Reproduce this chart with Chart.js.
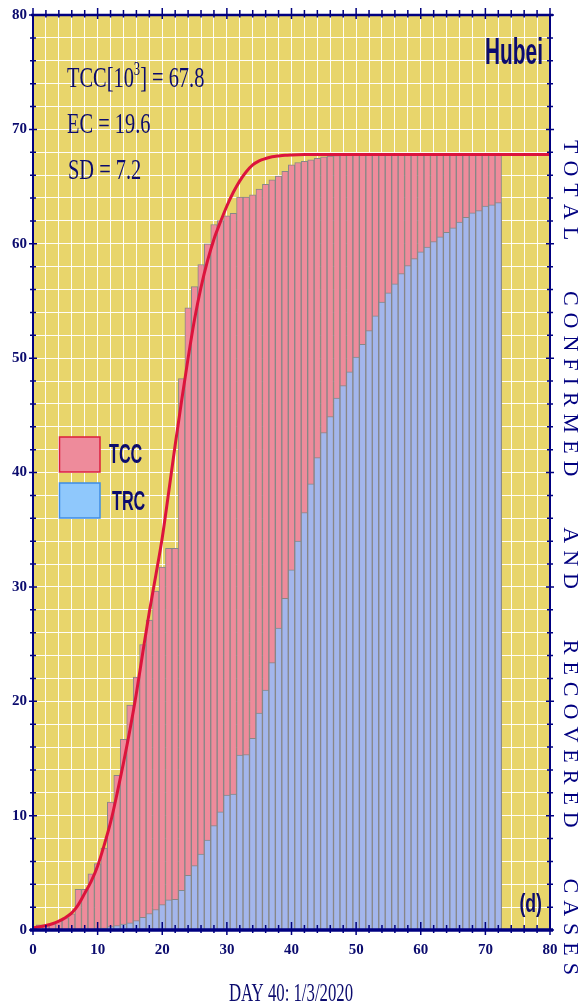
<!DOCTYPE html>
<html>
<head>
<meta charset="utf-8">
<title>Hubei - TCC / TRC</title>
<script src="https://cdn.jsdelivr.net/npm/chart.js@4.4.1/dist/chart.umd.min.js"></script>
<style>
html, body { margin: 0; padding: 0; background: #ffffff; }
#hubeiChart { display: block; }
</style>
</head>
<body>
<canvas id="hubeiChart" width="581" height="1008"></canvas>

<script>
// day 1 = 22/1/2020, values in thousands
var days = [1,2,3,4,5,6,7,8,9,10,11,12,13,14,15,16,17,18,19,20,
            21,22,23,24,25,26,27,28,29,30,31,32,33,34,35,36,37,38,39,40,
            41,42,43,44,45,46,47,48,49,50,51,52,53,54,55,56,57,58,59,60,
            61,62,63,64,65,66,67,68,69,70,71,72];

// total confirmed cases
var tcc = [0.444,0.444,0.549,0.761,1.058,1.423,3.554,3.554,4.903,5.806,
           7.153,11.177,13.522,16.678,19.665,22.112,24.953,27.100,29.631,31.728,
           33.366,33.366,48.206,54.406,56.249,58.182,59.989,61.682,62.031,62.442,
           62.662,64.084,64.084,64.287,64.786,65.187,65.596,65.914,66.337,66.907,
           67.103,67.217,67.332,67.466,67.592,67.666,67.707,67.743,67.760,67.773,
           67.781,67.786,67.790,67.794,67.798,67.799,67.800,67.800,67.800,67.800,
           67.800,67.800,67.800,67.800,67.800,67.801,67.801,67.801,67.801,67.802,
           67.802,67.802];

// total recovered cases
var trc = [0.028,0.028,0.031,0.032,0.042,0.045,0.080,0.088,0.090,0.141,
           0.168,0.295,0.386,0.522,0.633,0.817,1.115,1.439,1.795,2.222,
           2.639,2.686,3.459,4.774,5.623,6.639,7.862,9.128,10.337,11.788,
           11.881,15.299,15.343,16.748,18.971,20.969,23.383,26.4,29.0,31.5,
           34.0,36.5,39.0,41.3,43.5,44.9,46.5,47.6,48.8,50.1,
           51.2,52.4,53.7,54.9,55.7,56.5,57.4,58.1,58.7,59.3,
           59.7,60.2,60.6,61.0,61.4,61.9,62.3,62.7,62.9,63.3,
           63.4,63.6];

// fitted curve
var fitDays = [0,1,2,3,4,5,6,7,8,9,10,11,12,13,14,15,16,17,18,19,20,
               21,22,23,24,25,26,27,28,29,30,31,32,33,34,35,36,37,38,39,40,
               41,42,44,46,50,55,60,65,70,75,80];
var fitTcc = [0.20,0.28,0.40,0.55,0.78,1.08,1.50,2.20,3.20,4.25,5.60,
              7.40,9.40,11.90,14.60,17.50,20.70,24.30,27.80,31.00,34.30,
              38.30,42.40,46.30,50.00,53.40,56.20,58.50,60.40,61.90,63.30,
              64.50,65.50,66.30,66.90,67.25,67.45,67.60,67.68,67.74,67.77,
              67.79,67.80,67.80,67.80,67.80,67.80,67.80,67.80,67.80,67.80,67.80];

var xTickLabels = [0,10,20,30,40,50,60,70,80];
var yTickLabels = [0,10,20,30,40,50,60,70,80];

var NAVY = '#000080';
var TEXT = '#0b0b6e';

// yellow plot background
var bgPlugin = {
  id: 'plotBg',
  beforeDraw: function(chart) {
    var a = chart.chartArea, c = chart.ctx;
    c.save();
    c.fillStyle = '#e8d56b';
    c.fillRect(a.left, a.top, a.right - a.left, a.bottom - a.top);
    c.restore();
  }
};

// box round the plot with tick marks on all four sides
var framePlugin = {
  id: 'frame',
  afterDatasetsDraw: function(chart) {
    var a = chart.chartArea, c = chart.ctx;
    var xs = chart.scales.x, ys = chart.scales.y;
    c.save();
    c.strokeStyle = NAVY;
    c.lineWidth = 1.5;
    c.beginPath();
    for (var v = 0; v <= 80; v += 2) {
      var big = (v % 10 === 0);
      var px = xs.getPixelForValue(v);
      // bottom
      c.moveTo(px, a.bottom - (big ? 8 : 5));
      c.lineTo(px, a.bottom + (big ? 5 : 3));
      // top
      c.moveTo(px, a.top - (big ? 7 : 5));
      c.lineTo(px, a.top + (big ? 4 : 2.5));
      var py = ys.getPixelForValue(v);
      // left
      c.moveTo(a.left - (big ? 4 : 3), py);
      c.lineTo(a.left + (big ? 4 : 3), py);
      // right
      c.moveTo(a.right - (big ? 4 : 3), py);
      c.lineTo(a.right + (big ? 4 : 3), py);
    }
    c.stroke();

    c.lineWidth = 2;
    c.beginPath();
    c.moveTo(a.left, a.top); c.lineTo(a.left, a.bottom);
    c.moveTo(a.right, a.top); c.lineTo(a.right, a.bottom);
    c.stroke();
    c.lineWidth = 2.5;
    c.beginPath();
    c.moveTo(a.left - 2, a.top); c.lineTo(a.right + 3, a.top);
    c.stroke();
    c.lineWidth = 3.5;
    c.beginPath();
    c.moveTo(a.left - 3, a.bottom); c.lineTo(a.right + 3, a.bottom);
    c.stroke();
    c.restore();
  }
};

// text squeezed sideways, like the narrow fonts of the figure
function narrowText(c, str, x, y, font, sx, align) {
  c.save();
  c.font = font;
  var w = c.measureText(str).width * sx;
  var x0 = x;
  if (align === 'right') x0 = x - w;
  if (align === 'center') x0 = x - w / 2;
  c.translate(x0, y);
  c.scale(sx, 1);
  c.textAlign = 'left';
  c.textBaseline = 'alphabetic';
  c.fillText(str, 0, 0);
  c.restore();
  return w;
}

var textPlugin = {
  id: 'labels',
  afterDraw: function(chart) {
    var c = chart.ctx;
    c.save();
    c.fillStyle = TEXT;

    // fit parameters
    var serif = '30px "Liberation Serif", serif';
    var w = narrowText(c, 'TCC[10', 67, 87, serif, 0.68, 'left');
    w += narrowText(c, '3', 67 + w, 75, '18px "Liberation Serif", serif', 0.7, 'left');
    narrowText(c, '] = 67.8', 67 + w, 87, serif, 0.68, 'left');
    narrowText(c, 'EC = 19.6', 67, 133, serif, 0.68, 'left');
    narrowText(c, 'SD = 7.2', 68, 179, serif, 0.68, 'left');

    // region + panel letter
    narrowText(c, 'Hubei', 543, 64, 'bold 36px "Liberation Sans", sans-serif', 0.58, 'right');
    narrowText(c, '(d)', 542, 912, 'bold 26px "Liberation Sans", sans-serif', 0.68, 'right');

    // legend
    c.lineWidth = 1.5;
    c.fillStyle = '#ee8b9b';
    c.strokeStyle = '#dc1e3c';
    c.fillRect(59.5, 437, 40.5, 35);
    c.strokeRect(59.5, 437, 40.5, 35);
    c.fillStyle = '#8fc8fc';
    c.strokeStyle = '#3c8ce6';
    c.fillRect(59.5, 483, 40.5, 35);
    c.strokeRect(59.5, 483, 40.5, 35);
    c.fillStyle = TEXT;
    narrowText(c, 'TCC', 109, 463, 'bold 27px "Liberation Sans", sans-serif', 0.6, 'left');
    narrowText(c, 'TRC', 112, 510, 'bold 27px "Liberation Sans", sans-serif', 0.6, 'left');

    // x axis title
    narrowText(c, 'DAY 40: 1/3/2020', 291, 1001, '25px "Liberation Serif", serif', 0.67, 'center');

    // right axis title: letters spread, wider gaps between words
    var words = ['TOTAL', 'CONFIRMED', 'AND', 'RECOVERED', 'CASES'];
    c.fillStyle = NAVY;
    c.translate(564, 140);
    c.rotate(Math.PI / 2);
    c.font = '22px "Liberation Serif", serif';
    c.textBaseline = 'alphabetic';
    var letterGap = 7, inner = 0, letters = 0;
    words.forEach(function(wd) {
      for (var i = 0; i < wd.length; i++) letters += c.measureText(wd[i]).width;
      inner += wd.length - 1;
    });
    var wordGap = (835 - letters - inner * letterGap) / (words.length - 1);
    var pos = 0;
    words.forEach(function(wd) {
      for (var i = 0; i < wd.length; i++) {
        c.fillText(wd[i], pos, 0);
        pos += c.measureText(wd[i]).width + (i < wd.length - 1 ? letterGap : 0);
      }
      pos += wordGap;
    });
    c.restore();
  }
};

function pts(xsArr, ysArr) {
  var out = [];
  for (var i = 0; i < xsArr.length; i++) out.push({x: xsArr[i], y: ysArr[i]});
  return out;
}

var tickFont = {family: '"Liberation Serif", serif', size: 15, weight: 'bold'};

var ctx = document.getElementById('hubeiChart').getContext('2d');
var hubeiChart = new Chart(ctx, {
  type: 'bar',
  data: {
    datasets: [
      {
        type: 'line',
        label: 'fit',
        data: pts(fitDays, fitTcc),
        borderColor: '#dc143c',
        borderWidth: 3,
        pointRadius: 0,
        fill: false,
        cubicInterpolationMode: 'monotone',
        order: 0
      },
      {
        label: 'TRC',
        data: pts(days, trc),
        backgroundColor: '#a3b6ec',
        borderColor: '#878787',
        borderWidth: 1,
        borderSkipped: 'bottom',
        barPercentage: 1,
        categoryPercentage: 1,
        grouped: false,
        order: 1
      },
      {
        label: 'TCC',
        data: pts(days, tcc),
        backgroundColor: '#ee8b9b',
        borderColor: '#878787',
        borderWidth: 1,
        borderSkipped: 'bottom',
        barPercentage: 1,
        categoryPercentage: 1,
        grouped: false,
        order: 2
      }
    ]
  },
  options: {
    responsive: false,
    animation: false,
    layout: {padding: {top: 14, right: 31, left: 0, bottom: 0}},
    plugins: {
      legend: {display: false},
      tooltip: {enabled: false}
    },
    scales: {
      x: {
        type: 'linear',
        min: 0,
        max: 80,
        offset: false,
        grid: {color: 'rgba(255,255,255,0.95)', lineWidth: 1, drawTicks: false, offset: false},
        border: {display: false},
        ticks: {
          stepSize: 2,
          autoSkip: false,
          maxRotation: 0,
          padding: 11,
          color: TEXT,
          font: tickFont,
          callback: function(v) { return xTickLabels.indexOf(v) >= 0 ? String(v) : ''; }
        },
        afterFit: function(s) { s.height = 78; }
      },
      y: {
        type: 'linear',
        min: 0,
        max: 80,
        grid: {color: 'rgba(255,255,255,0.95)', lineWidth: 1, drawTicks: false},
        border: {display: false},
        ticks: {
          stepSize: 2,
          autoSkip: false,
          padding: 6,
          color: TEXT,
          font: tickFont,
          callback: function(v) { return yTickLabels.indexOf(v) >= 0 ? String(v) : ''; }
        },
        afterFit: function(s) { s.width = 33; }
      }
    }
  },
  plugins: [bgPlugin, framePlugin, textPlugin]
});
</script>
</body>
</html>
